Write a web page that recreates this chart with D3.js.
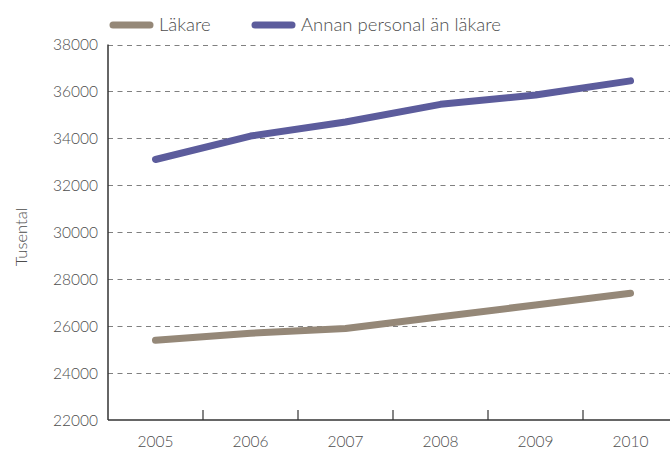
<!DOCTYPE html>
<html>
<head>
<meta charset="utf-8">
<script src="https://cdn.jsdelivr.net/npm/d3@7"></script>
<style>
  body { margin: 0; background: #fff; }
  text { font-family: Lato, "Open Sans", sans-serif; font-weight: 300; fill: #4d4d4d; }
</style>
</head>
<body>
<div id="chart"></div>
<script>
var years = ["2005", "2006", "2007", "2008", "2009", "2010"];
var lakare = [25400, 25700, 25900, 26400, 26900, 27400];
var annan = [33100, 34100, 34700, 35450, 35850, 36450];
var yTicks = [22000, 24000, 26000, 28000, 30000, 32000, 34000, 36000, 38000];
var seriesNames = ["Läkare", "Annan personal än läkare"];
var seriesColors = ["#958878", "#5c5c9c"];

var width = 670;
var height = 451;
var plotLeft = 108, plotTop = 44.5, plotBottom = 420, plotRight = 678;

var svg = d3.select("#chart")
  .append("svg")
  .attr("width", width)
  .attr("height", height);

var x = d3.scaleBand().domain(years).range([plotLeft, plotRight]);
var y = d3.scaleLinear().domain([22000, 38000]).range([plotBottom, plotTop]);

// grid
svg.append("g")
  .selectAll("line")
  .data(yTicks.slice(1))
  .enter()
  .append("line")
  .attr("x1", plotLeft)
  .attr("x2", width)
  .attr("y1", function(d){ return Math.round(y(d)) + 0.5; })
  .attr("y2", function(d){ return Math.round(y(d)) + 0.5; })
  .attr("stroke", "#808080")
  .attr("stroke-width", 1.1)
  .attr("stroke-dasharray", "5,4.5");

// y labels
svg.append("g")
  .selectAll("text")
  .data(yTicks)
  .enter()
  .append("text")
  .attr("x", 98)
  .attr("y", function(d){ return y(d) + 5.5; })
  .attr("text-anchor", "end")
  .attr("font-size", 15.5)
  .text(function(d){ return d; });

// axes
svg.append("line")
  .attr("x1", plotLeft).attr("x2", plotLeft)
  .attr("y1", plotTop).attr("y2", plotBottom)
  .attr("stroke", "#333").attr("stroke-width", 1.5);
svg.append("line")
  .attr("x1", plotLeft).attr("x2", width)
  .attr("y1", plotBottom).attr("y2", plotBottom)
  .attr("stroke", "#333").attr("stroke-width", 1.5);

svg.append("g")
  .selectAll("line")
  .data(years.slice(1))
  .enter()
  .append("line")
  .attr("x1", function(d){ return x(d); })
  .attr("x2", function(d){ return x(d); })
  .attr("y1", plotBottom - 10)
  .attr("y2", plotBottom)
  .attr("stroke", "#333")
  .attr("stroke-width", 1.2);

svg.append("g")
  .selectAll("text")
  .data(years)
  .enter()
  .append("text")
  .attr("x", function(d){ return x(d) + x.bandwidth() / 2; })
  .attr("y", 447)
  .attr("text-anchor", "middle")
  .attr("font-size", 15.5)
  .text(function(d){ return d; });

svg.append("text")
  .attr("transform", "translate(27,237) rotate(-90)")
  .attr("text-anchor", "middle")
  .attr("font-size", 16.5)
  .text("Tusental");

// lines
var line = d3.line()
  .x(function(d, i){ return x(years[i]) + x.bandwidth() / 2; })
  .y(function(d){ return y(d); });

[lakare, annan].forEach(function(s, i){
  svg.append("path")
    .attr("d", line(s))
    .attr("fill", "none")
    .attr("stroke", seriesColors[i])
    .attr("stroke-width", 7)
    .attr("stroke-linecap", "round")
    .attr("stroke-linejoin", "round");
});

// legend
var legendX = [113, 255];
seriesNames.forEach(function(n, i){
  svg.append("line")
    .attr("x1", legendX[i]).attr("x2", legendX[i] + 37)
    .attr("y1", 25).attr("y2", 25)
    .attr("stroke", seriesColors[i])
    .attr("stroke-width", 7)
    .attr("stroke-linecap", "round");
  svg.append("text")
    .attr("x", legendX[i] + 46)
    .attr("y", 31)
    .attr("font-size", 18.5)
    .text(n);
});
</script>
</body>
</html>
